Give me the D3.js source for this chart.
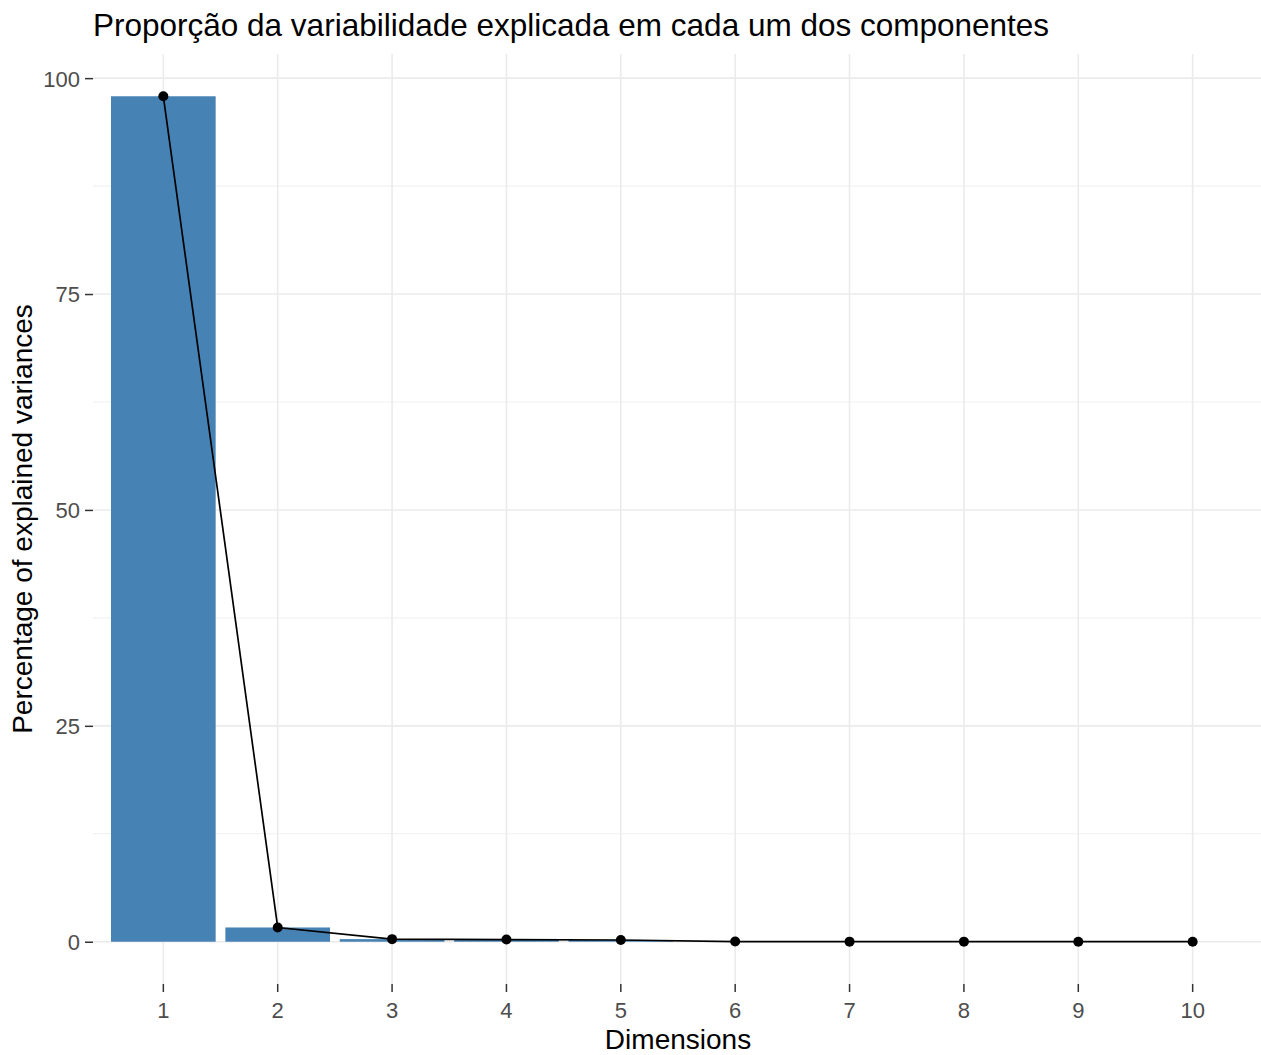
<!DOCTYPE html>
<html>
<head>
<meta charset="utf-8">
<script src="https://cdn.jsdelivr.net/npm/d3@7"></script>
<style>
  html, body { margin: 0; padding: 0; background: #ffffff; }
  svg { display: block; font-family: "Liberation Sans", Arial, sans-serif; }
</style>
</head>
<body>
<svg id="chart" width="1261" height="1055"></svg>
<script>
// ---- data ----
const dimensions = ["1", "2", "3", "4", "5", "6", "7", "8", "9", "10"];
const explainedVariance = [97.9, 1.65, 0.3, 0.25, 0.2, 0.02, 0.01, 0.01, 0.005, 0.003];
const yTicks = [0, 25, 50, 75, 100];
const yMinorTicks = [12.5, 37.5, 62.5, 87.5];
const titleText = "Proporção da variabilidade explicada em cada um dos componentes";
const xTitle = "Dimensions";
const yTitle = "Percentage of explained variances";

// ---- layout ----
const panel = { left: 93, right: 1263, top: 54, bottom: 984 };
const svg = d3.select("#chart");

const x = d3.scaleBand()
  .domain(dimensions)
  .range([panel.left, panel.right])
  .paddingInner(0.085)
  .paddingOuter(0.1575);

const yMax = d3.max(explainedVariance);
const expand = yMax * 0.05;
const y = d3.scaleLinear()
  .domain([-expand, yMax + expand])
  .range([panel.bottom, panel.top]);

const cx = d => x(d) + x.bandwidth() / 2;

// ---- grid ----
const grid = svg.append("g");
grid.selectAll("line.minor").data(yMinorTicks).enter().append("line")
  .attr("x1", panel.left).attr("x2", panel.right)
  .attr("y1", d => y(d)).attr("y2", d => y(d))
  .attr("stroke", "#EBEBEB").attr("stroke-width", 0.8);
grid.selectAll("line.major").data(yTicks).enter().append("line")
  .attr("x1", panel.left).attr("x2", panel.right)
  .attr("y1", d => y(d)).attr("y2", d => y(d))
  .attr("stroke", "#EBEBEB").attr("stroke-width", 1.6);
grid.selectAll("line.vmajor").data(dimensions).enter().append("line")
  .attr("x1", d => cx(d)).attr("x2", d => cx(d))
  .attr("y1", panel.top).attr("y2", panel.bottom)
  .attr("stroke", "#EBEBEB").attr("stroke-width", 1.6);

// ---- bars ----
const data = dimensions.map((d, i) => ({ dim: d, v: explainedVariance[i] }));
svg.append("g").selectAll("rect").data(data).enter().append("rect")
  .attr("x", d => x(d.dim))
  .attr("width", x.bandwidth())
  .attr("y", d => y(d.v))
  .attr("height", d => Math.max(0, y(0) - y(d.v)))
  .attr("fill", "#4682B4");

// ---- line + points ----
const line = d3.line().x(d => cx(d.dim)).y(d => y(d.v));
svg.append("path").datum(data)
  .attr("d", line)
  .attr("fill", "none")
  .attr("stroke", "#000000")
  .attr("stroke-width", 1.7);
svg.append("g").selectAll("circle").data(data).enter().append("circle")
  .attr("cx", d => cx(d.dim))
  .attr("cy", d => y(d.v))
  .attr("r", 5)
  .attr("fill", "#000000");

// ---- axes ----
const xAxis = svg.append("g")
  .attr("transform", `translate(0,${panel.bottom})`)
  .call(d3.axisBottom(x).tickSize(8).tickSizeOuter(0));
xAxis.select(".domain").remove();
xAxis.selectAll(".tick line").attr("stroke", "#333333").attr("stroke-width", 1.5);
xAxis.selectAll(".tick text")
  .attr("y", 34).attr("dy", null)
  .attr("fill", "#4D4D4D")
  .style("font-size", "22px")
  .style("font-family", "'Liberation Sans', Arial, sans-serif");

const yAxis = svg.append("g")
  .attr("transform", `translate(${panel.left},0)`)
  .call(d3.axisLeft(y).tickValues(yTicks).tickSize(8).tickPadding(5).tickSizeOuter(0));
yAxis.select(".domain").remove();
yAxis.selectAll(".tick line").attr("stroke", "#333333").attr("stroke-width", 1.5);
yAxis.selectAll(".tick text")
  .attr("fill", "#4D4D4D")
  .attr("dy", "0.36em")
  .style("font-size", "22px")
  .style("font-family", "'Liberation Sans', Arial, sans-serif");

// ---- titles ----
svg.append("text")
  .attr("x", panel.left).attr("y", 36)
  .attr("fill", "#000000")
  .style("font-size", "31.5px")
  .text(titleText);

svg.append("text")
  .attr("x", (panel.left + panel.right) / 2).attr("y", 1049)
  .attr("text-anchor", "middle")
  .attr("fill", "#000000")
  .style("font-size", "28px")
  .text(xTitle);

svg.append("text")
  .attr("transform", `translate(32,${(panel.top + panel.bottom) / 2}) rotate(-90)`)
  .attr("text-anchor", "middle")
  .attr("fill", "#000000")
  .style("font-size", "28px")
  .text(yTitle);
</script>
</body>
</html>
